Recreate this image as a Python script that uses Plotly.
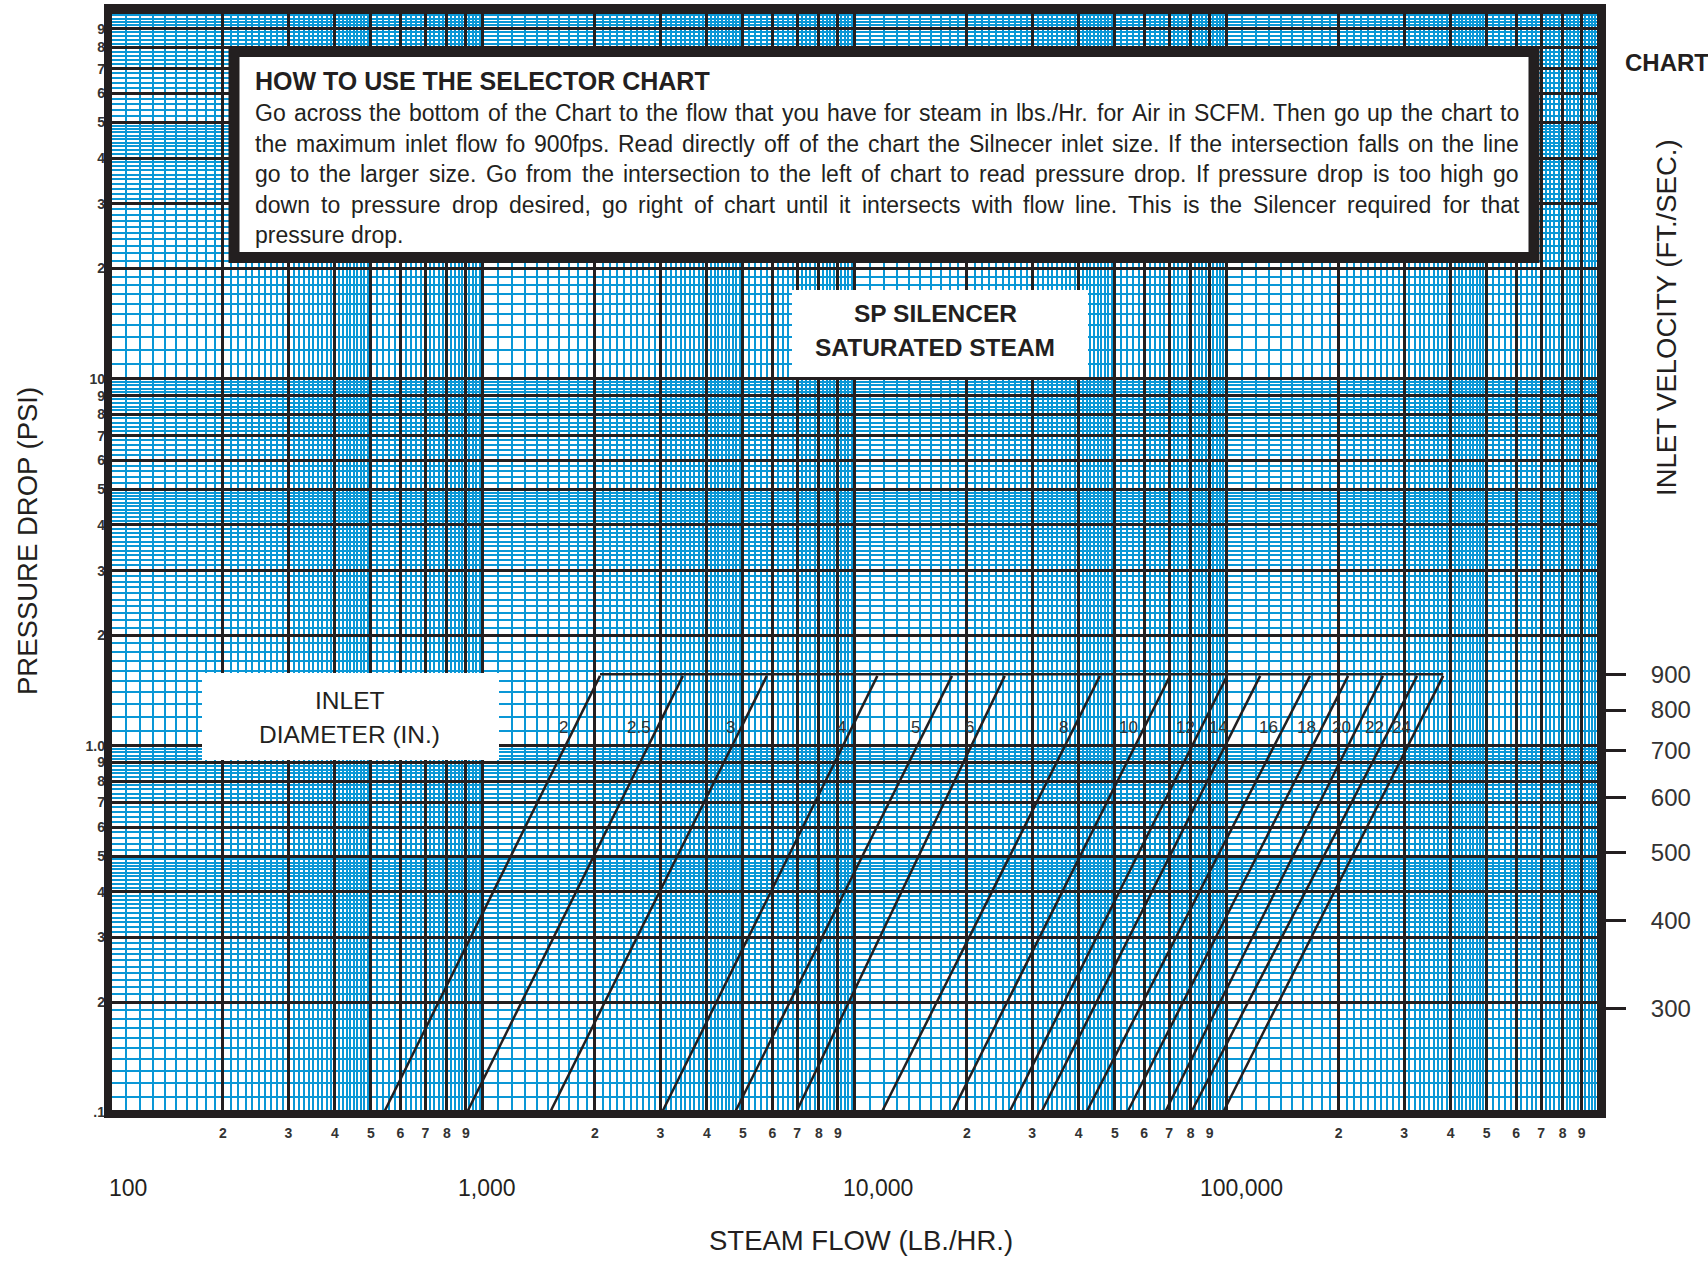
import math
import plotly.graph_objects as go

# ---------------- data ----------------
diameters = ["2", "2.5", "3", "4", "5", "6", "8", "10", "12", "14", "16", "18", "20", "22", "24"]
# steam flow (lb/hr) where each inlet-diameter line meets the 900 ft/s line (top end)
flow_at_900fps = [2065, 3450, 5800, 11500, 18250, 25300, 45600, 70400, 100200,
                  123000, 167500, 212000, 263000, 325000, 382000]
# steam flow (lb/hr) where each line meets the 0.1 psi bottom edge
flow_at_bottom = [542, 906, 1515, 3030, 4760, 6950, 11800, 18250, 26000,
                  31700, 41900, 54000, 68200, 80200, 97700]
dp_at_900fps = 1.55      # psi
dp_bottom = 0.1          # psi
velocity_line = 900      # ft/s
label_dp = 1.12          # psi level of the diameter labels

velocity_ticks = [300, 400, 500, 600, 700, 800, 900]
velocity_text = ["300", "400", "500", "600", "700", "800", "900"]
x_decade_values = [100, 1000, 10000, 100000]
x_decade_labels = ["100", "1,000", "10,000", "100,000"]
x_decade_shift = [17, 4, 23, 15]
x_decades = [2, 3, 4, 5]
y_decades = [-1, 0, 1]
y_decade_first_labels = [".1", "1.0", "10"]
mantissas = [1, 2, 3, 4, 5, 6, 7, 8, 9]

help_title = "HOW TO USE THE SELECTOR CHART"
help_lines = [
    "Go across the bottom of the Chart to the flow that you have for steam in lbs./Hr. for Air in SCFM. Then go up the chart to",
    "the maximum inlet flow fo 900fps. Read directly off of the chart the Silnecer inlet size. If the intersection falls on the line",
    "go to the larger size. Go from the intersection to the left of chart to read pressure drop. If pressure drop is too high go",
    "down to pressure drop desired, go right of chart until it intersects with flow line. This is the Silencer required for that",
    "pressure drop.",
]

# ---------------- styling ----------------
FONT = "Liberation Sans, Arial, Helvetica, sans-serif"
BLACK = "#231f20"
BLUE = "#0a97d6"
W, H = 1708, 1262
ML, MR, MT, MB = 108, 106, 8, 148
PW, PH = W - ML - MR, H - MT - MB


def px(x):
    return (x - ML) / PW


def py(y):
    return (H - MB - y) / PH


# Arial / Liberation Sans advance widths (1/1000 em) for justified text layout
AW = dict(zip("abcdefghijklmnopqrstuvwxyz",
              [556, 556, 500, 556, 556, 278, 556, 556, 222, 222, 500, 222, 833,
               556, 556, 556, 556, 333, 500, 278, 556, 500, 722, 500, 500, 500]))
AW.update(dict(zip("ABCDEFGHIJKLMNOPQRSTUVWXYZ",
                   [667, 667, 722, 722, 667, 611, 778, 722, 278, 500, 667, 556, 833,
                    722, 778, 667, 778, 722, 667, 611, 722, 667, 944, 667, 667, 611])))
AW.update({d: 556 for d in "0123456789"})
AW.update({" ": 278, ".": 278, ",": 278, "/": 278, "(": 333, ")": 333, "-": 333})


def wunits(s):
    return sum(AW.get(c, 556) for c in s)


# grid positions
minor_m = [round(1 + 0.1 * i, 1) for i in range(1, 40) if i % 10 != 0] + \
          [round(5 + 0.2 * i, 1) for i in range(1, 25) if i % 5 != 0]
x_major = [m * 10 ** k for k in x_decades for m in mantissas] + [10 ** 6]
x_major_text = [("" if m == 1 else str(m)) for k in x_decades for m in mantissas] + [""]
x_minor = [m * 10 ** k for k in x_decades for m in minor_m]
y_major = [m * 10.0 ** k for k in y_decades for m in mantissas] + [100]
y_major_text = []
for i, k in enumerate(y_decades):
    for m in mantissas:
        y_major_text.append(y_decade_first_labels[i] if m == 1 else str(m))
y_major_text.append("")
y_minor = [m * 10.0 ** k for k in y_decades for m in minor_m]

fig = go.Figure()

# inlet diameter lines
for d, ft, fb in zip(diameters, flow_at_900fps, flow_at_bottom):
    fig.add_trace(go.Scatter(x=[fb, ft], y=[dp_bottom, dp_at_900fps], mode="lines",
                             line=dict(color=BLACK, width=2.5), hoverinfo="skip",
                             showlegend=False, name=d))

# 900 ft/s line across the tops (on the velocity axis)
fig.add_trace(go.Scatter(x=[flow_at_900fps[0], flow_at_900fps[-1]],
                         y=[velocity_line, velocity_line], yaxis="y2", mode="lines",
                         line=dict(color=BLACK, width=2.5), hoverinfo="skip", showlegend=False))

annotations = []


def ann(x, y, text, size, bold=False, xanchor="center", angle=0, color=BLACK):
    annotations.append(dict(x=px(x), y=py(y), xref="paper", yref="paper",
                            text=("<b>%s</b>" % text) if bold else text, showarrow=False,
                            xanchor=xanchor, yanchor="middle", textangle=angle,
                            font=dict(family=FONT, size=size, color=color)))


# diameter labels
lp = math.log10(label_dp)
for d, ft, fb in zip(diameters, flow_at_900fps, flow_at_bottom):
    frac = (lp - math.log10(dp_bottom)) / (math.log10(dp_at_900fps) - math.log10(dp_bottom))
    xl = math.log10(fb) + (math.log10(ft) - math.log10(fb)) * frac
    annotations.append(dict(x=xl, y=lp, xref="x", yref="y", text=d, showarrow=False,
                            xanchor="right", yanchor="middle", xshift=-4,
                            font=dict(family=FONT, size=17, color="#333333")))

# decade labels under the axis
for v, t, s in zip(x_decade_values, x_decade_labels, x_decade_shift):
    annotations.append(dict(x=math.log10(v), y=py(1188), xref="x", yref="paper", text=t,
                            showarrow=False, xanchor="center", yanchor="middle", xshift=s,
                            font=dict(family=FONT, size=23, color=BLACK)))

# axis titles
ann(861, 1240, "STEAM FLOW (LB./HR.)", 27.5)
ann(27, 541, "PRESSURE DROP (PSI)", 27.5, angle=-90)
ann(1667, 318, "INLET VELOCITY (FT./SEC.)", 27.5, angle=-90)
ann(1623, 62, "CHART", 24, bold=True, xanchor="left")

# help box: title + justified body text
ann(253, 81, help_title, 25, bold=True, xanchor="left")
TXT_L, TXT_R = 253, 1517
line_y = [113, 144, 174, 205, 235]
nat = [wunits(l) for l in help_lines[:-1]]
body_size = min(23.0, (TXT_R - TXT_L) * 1000.0 / max(nat))
for li, (line, yy) in enumerate(zip(help_lines, line_y)):
    words = line.split(" ")
    ww = [wunits(w) * body_size / 1000.0 for w in words]
    if li < len(help_lines) - 1 and len(words) > 1:
        gap = ((TXT_R - TXT_L) - sum(ww)) / (len(words) - 1)
    else:
        gap = AW[" "] * body_size / 1000.0
    xcur = TXT_L
    for w, wpx in zip(words, ww):
        ann(xcur, yy, w, body_size, xanchor="left")
        xcur += wpx + gap

# SP silencer box text
ann(935, 313, "SP SILENCER", 24.5, bold=True)
ann(935, 347, "SATURATED STEAM", 24.5, bold=True)
# inlet diameter box text
ann(349, 700, "INLET", 24.5)
ann(349, 734, "DIAMETER (IN.)", 24.5)

shapes = [
    dict(type="rect", xref="paper", yref="paper", x0=px(234), x1=px(1534), y0=py(51.5), y1=py(257.5),
         fillcolor="white", line=dict(color=BLACK, width=11), layer="above"),
    dict(type="rect", xref="paper", yref="paper", x0=px(792), x1=px(1088), y0=py(290), y1=py(377),
         fillcolor="white", line=dict(width=0), layer="above"),
    dict(type="rect", xref="paper", yref="paper", x0=px(202), x1=px(499), y0=py(673), y1=py(760),
         fillcolor="white", line=dict(width=0), layer="above"),
    dict(type="rect", xref="paper", yref="paper", x0=0, x1=1, y0=0, y1=1,
         fillcolor="rgba(0,0,0,0)", line=dict(color=BLACK, width=8), layer="above"),
]

tickfont_small = dict(family=FONT, size=14, color="#333333", weight="bold")

fig.update_layout(
    template="none",
    width=W, height=H,
    margin=dict(l=ML, r=MR, t=MT, b=MB, autoexpand=False),
    paper_bgcolor="white", plot_bgcolor="white",
    showlegend=False,
    xaxis=dict(type="log", range=[1.992, 6.009], tickmode="array", tickvals=x_major,
               ticktext=x_major_text, showgrid=True, gridcolor=BLACK, gridwidth=3,
               minor=dict(tickmode="array", tickvals=x_minor, showgrid=True,
                          gridcolor=BLUE, gridwidth=2, ticks=""),
               ticks="", showline=False, zeroline=False, automargin=False,
               ticklabelstandoff=9, tickfont=tickfont_small),
    yaxis=dict(type="log", range=[-1.004, 2.011], tickmode="array", tickvals=y_major,
               ticktext=y_major_text, showgrid=True, gridcolor=BLACK, gridwidth=3,
               minor=dict(tickmode="array", tickvals=y_minor, showgrid=True,
                          gridcolor=BLUE, gridwidth=2, ticks=""),
               ticks="", showline=False, zeroline=False, automargin=False,
               ticklabelstandoff=2, tickfont=tickfont_small),
    yaxis2=dict(type="log", range=[2.326, 3.906], overlaying="y", side="right",
                tickmode="array", tickvals=velocity_ticks, ticktext=velocity_text,
                ticks="outside", ticklen=23, tickwidth=3, tickcolor=BLACK,
                showgrid=False, showline=False, zeroline=False, automargin=False,
                ticklabelstandoff=20,
                tickfont=dict(family=FONT, size=24, color="#333333")),
    annotations=annotations,
    shapes=shapes,
)

fig.write_html("out.html", config={"displayModeBar": False, "staticPlot": True},
               post_script="document.body.style.margin='0';document.body.style.overflow='hidden';")
